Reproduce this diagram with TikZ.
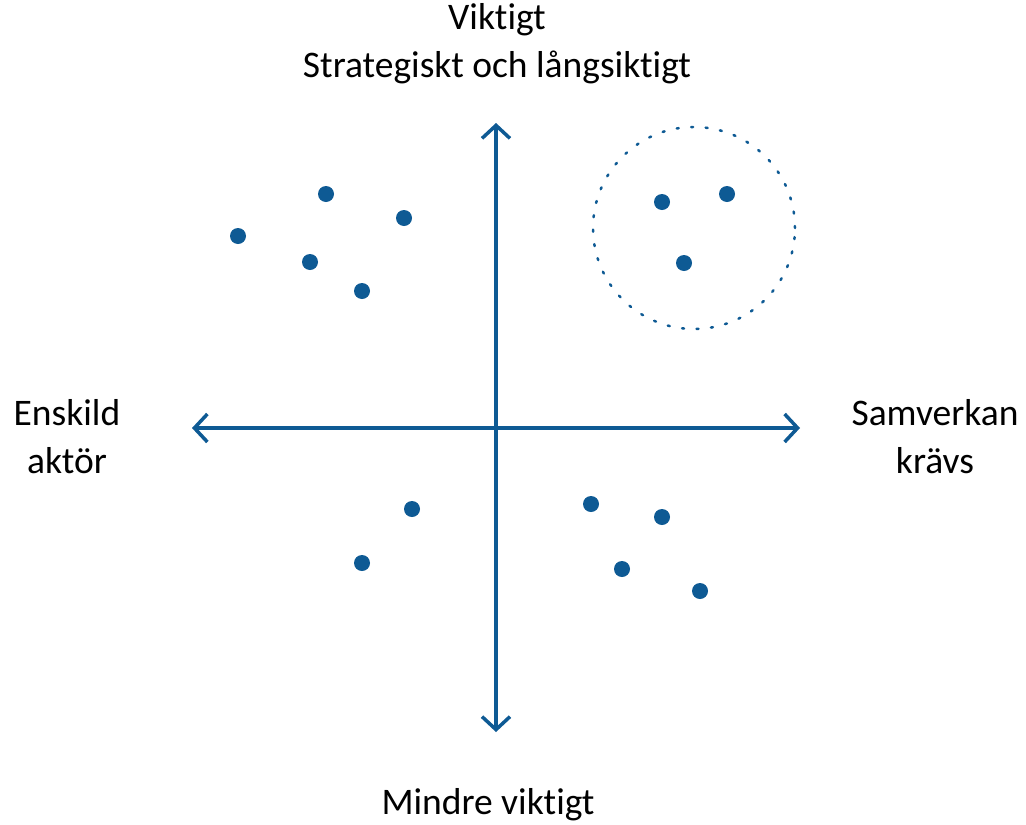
\documentclass[tikz,border=0pt]{standalone}
\usepackage{fontspec}
\setmainfont[Ligatures={NoCommon}]{Carlito}
\usetikzlibrary{arrows.meta}
\definecolor{mblue}{HTML}{0E5A94}
\begin{document}
\begin{tikzpicture}[x=1pt,y=-1pt,
  axis/.style={draw=mblue,line width=3.5pt,{Straight Barb[length=13pt,width=28pt,line width=3.5pt]}-{Straight Barb[length=13pt,width=28pt,line width=3.5pt]}},
  dot/.style={circle,fill=mblue,inner sep=0pt,minimum size=16pt},
  lbl/.style={font=\fontsize{37.5}{48}\selectfont,align=center,inner sep=0pt,text=black}]
\useasboundingbox (0,0) rectangle (1026,825);
\coordinate (top) at (496,123);
\coordinate (bot) at (496,732);
\coordinate (lft) at (192,428);
\coordinate (rgt) at (800,428);
\draw[axis] (bot) -- (top);
\draw[axis] (lft) -- (rgt);
\node[lbl] (tlabel) at (497,44) {Viktigt\\Strategiskt och långsiktigt};
\node[lbl] (llabel) at (67,437) {Enskild\\aktör};
\node[lbl] (rlabel) at (935,437) {Samverkan\\krävs};
\node[lbl] (blabel) at (488,805) {Mindre viktigt};
\node[circle,draw=mblue,line width=2.5pt,line cap=round,dash pattern=on 2pt off 12.5pt,minimum size=202pt,inner sep=0pt] (grp) at (694,228) {};
\foreach \n/\x/\y in {a/238/236,b/326/194,c/404/218,d/310/262,e/362/291,f/662/202,g/727/194,h/684/263,i/412/509,j/362/563,k/591/504,l/662/517,m/622/569,n/700/591}
  \node[dot] (\n) at (\x,\y) {};
\end{tikzpicture}
\end{document}
